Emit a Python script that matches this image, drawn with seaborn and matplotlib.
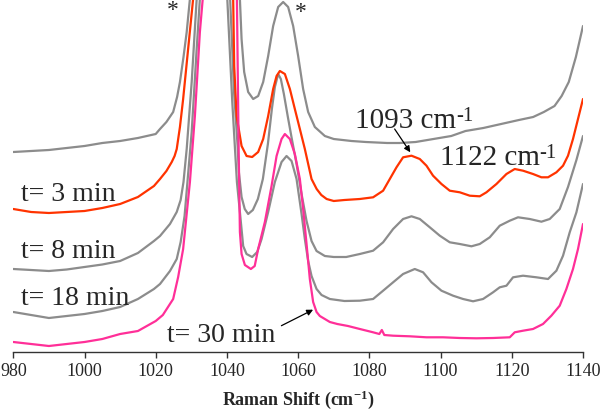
import matplotlib
matplotlib.use("Agg")
import matplotlib.pyplot as plt
import seaborn as sns
import pandas as pd

# ---- data (Raman shift in cm-1, intensity in arbitrary offset units; the 1036 band runs off scale) ----
top_x = [980, 985, 990, 995, 1000, 1005, 1010, 1015, 1020, 1021.2, 1023, 1024.9, 1026, 1026.8, 1027.8, 1028.7,
         1029.6, 1036.6, 1043.64, 1044.11, 1044.84, 1045.96, 1047.37, 1048.77, 1050.18, 1051.58, 1052.98,
         1054.39, 1055.79, 1057.19, 1058.6, 1060.0, 1061.4, 1062.81, 1064.69, 1067.5, 1070, 1075, 1079, 1085,
         1088.5, 1093, 1098, 1103, 1107, 1112, 1117, 1122, 1126, 1129, 1132, 1134, 1136, 1138, 1140]
top_y = [200, 201, 202, 204, 206, 209, 211, 214, 218, 223, 230, 240, 255, 270, 295, 320,
         353, 1500, 353, 313, 280, 260, 253, 256, 270, 296, 326,
         345, 350, 345, 326, 296, 263, 240, 225, 216, 213, 211, 210, 209,
         209, 210, 213, 216, 221, 224, 228, 232, 235, 240, 246, 256, 270, 295, 326]

t3_x = [980, 985, 990, 995, 1000, 1005, 1010, 1015, 1019.5, 1021.2, 1023, 1024.5, 1025.3, 1025.9, 1026.8, 1027.7,
        1029.1, 1030.5, 1036.1,
        1041.75, 1042.04, 1042.71, 1044.11, 1045.52, 1047.09, 1048.77, 1050.18, 1051.58, 1052.98, 1053.94,
        1054.86, 1056.27, 1057.68, 1059.07, 1060.48, 1061.88, 1063.76, 1065.2, 1066.5, 1068, 1070, 1073,
        1077.32, 1081.05, 1083.86, 1085.74, 1087.62, 1089.47, 1091.83, 1094.16, 1096.04, 1097.89, 1100.25,
        1102.58, 1105.39, 1108.2, 1111.0, 1112.88, 1115.69, 1118.5, 1120.83, 1123.16, 1125.96, 1128.32,
        1130.18, 1132.53, 1134.39, 1135.79, 1137.19, 1140]
t3_y = [143, 140, 139, 140, 141, 144, 148, 155, 166, 173, 181, 190, 196, 203, 225, 253,
        303, 353, 1500,
        353, 286, 236, 206, 196, 195, 200, 213, 236, 263, 276,
        281, 278, 263, 243, 223, 203, 173, 163, 157, 153, 151, 152,
        153, 154.7, 161.3, 173, 184.7, 194.7, 196.3, 193, 186.3, 176.3, 168,
        161.3, 159.7, 156.3, 155.7, 159.7, 168, 178, 183, 181.3, 178, 174.7,
        174.7, 179.7, 186.3, 196.3, 213, 253]

t8_x = [980, 985, 990, 995, 1000, 1005, 1010, 1015, 1019.5, 1021.2, 1024, 1025.9, 1027, 1027.8, 1028.7, 1030.1,
        1031.5, 1036.2,
        1040.9, 1042.0, 1043.0, 1043.35, 1044.11, 1045.0, 1045.96, 1047.28, 1048.69, 1050.09, 1051.5, 1052.62,
        1053.46, 1054.39, 1055.14, 1055.99, 1057.11, 1058.23, 1059.55, 1060.96, 1062.36, 1063.76, 1065.17,
        1067.5, 1070, 1073.5,
        1077.32, 1081.05, 1083.86, 1086.67, 1089.47, 1091.83, 1094.16, 1096.97, 1099.78, 1102.58, 1105.39,
        1108.67, 1111.0, 1113.81, 1116.62, 1119.43, 1121.75, 1125.04, 1128.32, 1130.65, 1133.46, 1135.79,
        1138.15, 1140]
t8_y = [83, 82, 81, 82.5, 85, 87.5, 91, 99, 111, 116, 128, 140, 152, 170, 203, 270,
        353, 1500,
        353, 260, 206, 180, 155, 143, 138, 142, 153, 173, 208, 243,
        265, 278, 273, 258, 235, 213, 188, 158, 131, 111, 101,
        96, 95, 95,
        98, 101.3, 109.7, 123, 133, 135.7, 133, 124.7, 116.3, 109.7, 108,
        105.7, 108, 114.7, 126.3, 131.3, 134.7, 133, 130.3, 133, 143, 165,
        192, 216]

t18_x = [980, 985, 990, 995, 1000, 1005, 1010, 1015, 1019.5, 1021.2, 1024, 1025.9, 1027, 1028.1, 1030.1, 1031.5,
         1032.4, 1036.3,
         1040.1, 1041.5, 1042.8, 1043.64, 1044.56, 1045.5, 1047.09, 1048.5, 1049.73, 1051.58, 1053.46, 1055.34,
         1056.74, 1058.15, 1059.55, 1060.96, 1061.88, 1062.81, 1063.76, 1065.17, 1066.57, 1068.9, 1073,
         1077.32, 1081.05, 1083.86, 1086.67, 1089.47, 1092.76, 1095.09, 1097.45, 1100.25, 1103.51, 1106.32,
         1109.12, 1111.93, 1114.74, 1116.62, 1118.5, 1120.35, 1123.16, 1126.92, 1130.18, 1132.53, 1134.39,
         1136.27, 1138.15, 1140]
t18_y = [40, 37, 34, 36, 38, 41, 45, 53, 63, 68, 81, 93, 110, 136, 220, 303,
         353, 1500,
         353, 250, 170, 140, 106, 98, 95, 100, 113, 140, 170, 190,
         196, 191, 173, 138, 113, 91, 76, 63, 57, 53, 51,
         51.3, 53, 61.3, 69.7, 78, 83, 79.7, 69.7, 61.3, 56.3, 53,
         50.7, 53, 59.7, 64.7, 66.3, 74.7, 76.3, 74.7, 73, 81.3, 96.3,
         119.7, 139.7, 168]

t30_x = [980, 985, 990, 995, 1000, 1005, 1010, 1015, 1020, 1022, 1024.9, 1026.3, 1027.7, 1029.6, 1031, 1032.4,
         1033.2, 1038,
         1042.8, 1043.3, 1043.64, 1044.11, 1045.04, 1046.72, 1047.8, 1048.77, 1050.65, 1052.53, 1053.94,
         1055.34, 1056.27, 1057.67, 1059.07, 1060.48, 1061.4, 1062.36, 1063.28, 1064.21, 1065.17, 1066.09,
         1068.9, 1071, 1074,
         1077.32, 1081.05, 1082.8, 1083.5, 1084.2, 1086.67, 1091.36, 1096.04, 1100.7, 1105.39, 1110.07,
         1114.74, 1119.43, 1120.83, 1123.16, 1125.96, 1128.77, 1131.11, 1133.46, 1135.33, 1137.19, 1138.6, 1140]
t30_y = [10, 8, 6, 8, 10, 13, 18, 21, 31, 37, 53, 75, 103, 170, 236, 320,
         353, 1500,
         353, 200, 120, 98, 87, 83, 86, 103, 130, 166, 196,
         213, 218, 213, 198, 173, 143, 108, 73, 50, 40, 36,
         30, 28, 26,
         23, 19.7, 18, 22, 17, 16.3, 15.7, 14.7, 14.7, 14, 13.7,
         14, 14.7, 19.7, 21.3, 23, 28, 36.3, 46.3, 63, 83, 103, 128]

x_ticks = [980, 1000, 1020, 1040, 1060, 1080, 1100, 1120, 1140]
curve_labels = ["t= 3 min", "t= 8 min", "t= 18 min", "t= 30 min"]
peak_labels = ["1093 cm", "1122 cm"]
unit_sup = "-1"

GRAY = "#8c8c8c"
RED = "#ff3300"
PINK = "#ff2f98"

sns.set_style("white")
plt.rcParams["font.family"] = ["Liberation Serif", "DejaVu Serif"]
plt.rcParams["mathtext.fontset"] = "custom"
plt.rcParams["mathtext.rm"] = "Liberation Serif"
plt.rcParams["mathtext.it"] = "Liberation Serif:italic"
plt.rcParams["mathtext.bf"] = "Liberation Serif:bold"

fig = plt.figure(figsize=(6, 4.1), dpi=100)
ax = fig.add_axes([13.3 / 600, 57 / 410, (583 - 13.3) / 600, 353 / 410])

curves = [
    (top_x, top_y, GRAY),
    (t8_x, t8_y, GRAY),
    (t18_x, t18_y, GRAY),
    (t3_x, t3_y, RED),
    (t30_x, t30_y, PINK),
]
for xs, ys, c in curves:
    df = pd.DataFrame({"shift": xs, "intensity": ys})
    sns.lineplot(data=df, x="shift", y="intensity", ax=ax, color=c, lw=1.6,
                 estimator=None, sort=False, legend=False)

ax.set_xlim(980, 1140)
ax.set_ylim(0, 353)
ax.set_yticks([])
ax.set_ylabel("")
ax.set_xticks(x_ticks)
ax.set_xticklabels([str(t) for t in x_ticks])
ax.tick_params(axis="x", direction="out", length=4, width=1, color="#333333",
               labelsize=13, pad=3, bottom=True)
for s in ["left", "right", "top"]:
    ax.spines[s].set_visible(False)
ax.spines["bottom"].set_color("#333333")
ax.spines["bottom"].set_linewidth(1)
ax.set_xlabel(r"Raman Shift (cm$^{\mathbf{-1}}$)", fontsize=13, fontweight="bold", labelpad=6)

# curve labels
ax.text(982.1, 152, curve_labels[0], fontsize=20, ha="left", va="baseline")
ax.text(982.1, 95, curve_labels[1], fontsize=20, ha="left", va="baseline")
ax.text(982.1, 48, curve_labels[2], fontsize=20, ha="left", va="baseline")
ax.text(1023.1, 11.3, curve_labels[3], fontsize=20, ha="left", va="baseline")

# peak labels with superscript unit
for (px, py), lab in zip([(1075.9, 225), (1099.8, 188)], peak_labels):
    t = ax.text(px, py, lab, fontsize=21, ha="left", va="baseline")
    ax.annotate(unit_sup, xy=(1.0, 1.03), xycoords=t, ha="left", va="top", fontsize=15)

# asterisks
ax.text(1024.8, 343, "*", fontsize=17, ha="center", va="center")
ax.text(1060.8, 341, "*", fontsize=17, ha="center", va="center")

# arrows
ax.annotate("", xy=(1091.5, 199.7), xytext=(1087.1, 223),
            arrowprops=dict(arrowstyle="-|>", color="black", lw=0.9, mutation_scale=9,
                            shrinkA=0, shrinkB=0))
ax.annotate("", xy=(1064.2, 42.3), xytext=(1055.3, 26.3),
            arrowprops=dict(arrowstyle="-|>", color="black", lw=0.9, mutation_scale=9,
                            shrinkA=0, shrinkB=0))

fig.savefig("out.png", dpi=100)
